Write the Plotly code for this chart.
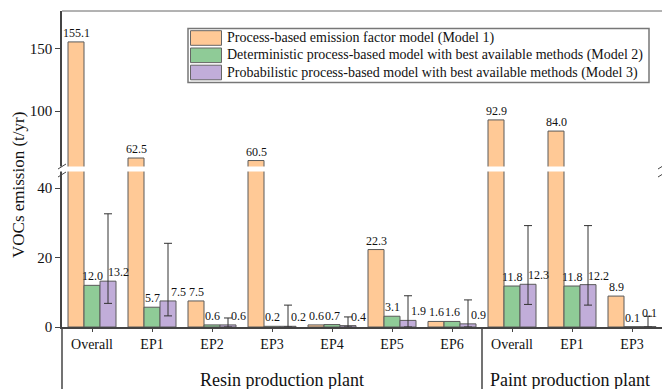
import plotly.graph_objects as go

# ---------------- data ----------------
categories = ["Overall", "EP1", "EP2", "EP3", "EP4", "EP5", "EP6", "Overall", "EP1", "EP3"]
plants = ["Resin production plant", "Paint production plant"]
plant_sizes = [7, 3]

series_names = [
    "Process-based emission factor model (Model 1)",
    "Deterministic process-based model with best available methods (Model 2)",
    "Probabilistic process-based model with best available methods (Model 3)",
]
model1 = [155.1, 62.5, 7.5, 60.5, 0.6, 22.3, 1.6, 92.9, 84.0, 8.9]
model2 = [12.0, 5.7, 0.6, 0.2, 0.7, 3.1, 1.6, 11.8, 11.8, 0.1]
model3 = [13.2, 7.5, 0.6, 0.2, 0.4, 1.9, 0.9, 12.3, 12.2, 0.1]
model3_low = [6.8, 3.2, 0.0, 0.0, 0.0, 0.0, 0.0, 6.5, 6.3, 0.0]
model3_high = [32.6, 24.1, 2.6, 6.3, 2.9, 9.0, 7.8, 29.2, 29.2, 3.1]

colors = ["#FFC996", "#8FCB97", "#C1ADD9"]
edge = "#5a5a5a"
FONT = "Liberation Serif, Times New Roman, serif"

lower_range = [0, 45.5]
upper_range = [53.75, 179.75]
break_value = 50

# --------------- figure ----------------
fig = go.Figure()
xs = list(range(len(categories)))
all_series = [model1, model2, model3]

for axis in ["y", "y2"]:
    for k, vals in enumerate(all_series):
        err = None
        if k == 2 and axis == "y":
            err = dict(type="data", symmetric=False,
                       array=[h - v for h, v in zip(model3_high, model3)],
                       arrayminus=[v - l for v, l in zip(model3, model3_low)],
                       color="#333333", thickness=1, width=4)
        fig.add_trace(go.Bar(
            x=xs, y=vals, name=series_names[k], yaxis=axis, xaxis="x",
            offsetgroup=str(k), showlegend=False,
            marker=dict(color=colors[k], line=dict(color=edge, width=1)),
            error_y=err, hoverinfo="skip",
        ))

# value labels
bar_w = 0.8 / 3
last = len(categories) - 1
annotations = []
for k, vals in enumerate(all_series):
    for i, v in enumerate(vals):
        xshift, yshift = 0, 0
        if k == 2:
            xshift = 10
            if i == last:
                xshift, yshift = 1, 5
        annotations.append(dict(
            x=i + (k - 1) * bar_w, y=v, xref="x",
            yref="y2" if v > break_value else "y",
            text=f"{v:.1f}", showarrow=False, yanchor="bottom",
            xshift=xshift, yshift=yshift,
            font=dict(family=FONT, size=12, color="#111")))

# y title
annotations.append(dict(text="VOCs emission (t/yr)", textangle=-90, xref="paper", yref="paper",
                        x=(18 - 62) / 600, y=(327 - 185) / 316, showarrow=False,
                        xanchor="center", yanchor="middle",
                        font=dict(family=FONT, size=17, color="#111")))

# plant group labels
start = 0
for name, n, shift in zip(plants, plant_sizes, [10, -2]):
    annotations.append(dict(text=name, xref="x", yref="paper",
                            x=start + (n - 1) / 2, y=(327 - 380) / 316,
                            xshift=shift, showarrow=False, yanchor="middle",
                            font=dict(family=FONT, size=18, color="#111")))
    start += n

# legend (drawn manually)
def px_x(p):
    return (p - 62) / 600

def px_y(p):
    return (327 - p) / 316

shapes = []
shapes.append(dict(type="rect", xref="paper", yref="paper", x0=px_x(188), x1=px_x(649),
                   y0=px_y(82.5), y1=px_y(28.5), line=dict(color="#777", width=1.5),
                   fillcolor="white", layer="above"))
rows = [(30.7, 45.3), (48.0, 62.6), (65.2, 79.8)]
for k, (t, b) in enumerate(rows):
    shapes.append(dict(type="rect", xref="paper", yref="paper", x0=px_x(190.5), x1=px_x(221.5),
                       y0=px_y(b), y1=px_y(t), line=dict(color="#666", width=1),
                       fillcolor=colors[k], layer="above"))
    annotations.append(dict(text=series_names[k], xref="paper", yref="paper",
                            x=px_x(224.5), y=px_y((t + b) / 2), xanchor="left", yanchor="middle",
                            showarrow=False, font=dict(family=FONT, size=14, color="#111")))

# top frame line
shapes.append(dict(type="line", xref="paper", yref="paper", x0=0, x1=1, y0=1, y1=1,
                   line=dict(color="#666", width=1)))
# break band
shapes.append(dict(type="rect", xref="paper", yref="paper", x0=-0.004, x1=1,
                   ysizemode="pixel", yanchor=0.5, y0=-2.5, y1=2.5,
                   line=dict(width=0), fillcolor="white", layer="above"))
# break slashes
for xa in [0, 1]:
    for y0 in [-6, 2]:
        shapes.append(dict(type="line", xref="paper", yref="paper",
                           xsizemode="pixel", xanchor=xa, x0=-4, x1=4,
                           ysizemode="pixel", yanchor=0.5, y0=y0 - 2, y1=y0 + 3,
                           line=dict(color="#444", width=1), layer="above"))
# dividers below axis
shapes.append(dict(type="line", xref="paper", yref="paper", x0=0, x1=0, y0=0, y1=-0.2,
                   line=dict(color="#444", width=1.5)))
shapes.append(dict(type="line", xref="x", yref="paper", x0=plant_sizes[0] - 0.5, x1=plant_sizes[0] - 0.5,
                   y0=0, y1=-0.2, line=dict(color="#444", width=1.5)))

axis_common = dict(showline=True, linecolor="#444", linewidth=1.5, ticks="outside",
                   tickcolor="#444", showgrid=False, zeroline=False,
                   tickfont=dict(family=FONT, size=15, color="#111"))

fig.update_layout(
    width=662, height=389,
    margin=dict(l=62, r=0, t=11, b=62),
    paper_bgcolor="white", plot_bgcolor="white",
    barmode="group", bargap=0.2, bargroupgap=0,
    showlegend=False,
    xaxis=dict(range=[-0.5, len(categories) - 0.5], tickvals=xs, ticktext=categories,
               showline=True, linecolor="#444", linewidth=1.5, ticks="outside", ticklen=3,
               tickcolor="#444", showgrid=False, zeroline=False,
               tickfont=dict(family=FONT, size=14, color="#111"), anchor="y"),
    yaxis=dict(domain=[0, 0.5], range=lower_range, tickvals=[0, 20, 40], ticklen=5,
               anchor="x", **axis_common),
    yaxis2=dict(domain=[0.5, 1], range=upper_range, tickvals=[100, 150], ticklen=5,
                anchor="x", **axis_common),
    annotations=annotations,
    shapes=shapes,
)

fig.write_html("out.html", config={"displayModeBar": False},
               post_script="document.body.style.margin='0';document.body.style.overflow='hidden';")
